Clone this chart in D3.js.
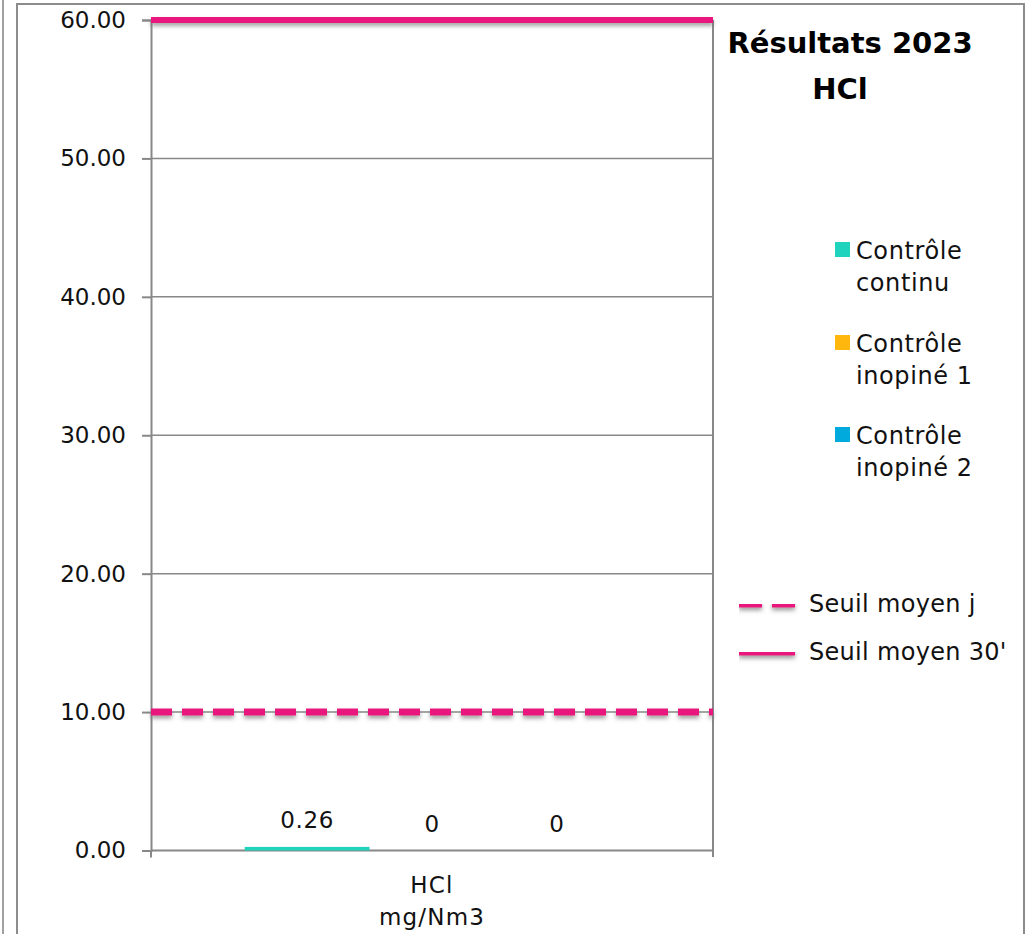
<!DOCTYPE html>
<html>
<head>
<meta charset="utf-8">
<script src="https://cdn.jsdelivr.net/npm/d3@7"></script>
<style>
  body { margin: 0; background: #fff; }
  svg { display: block; font-family: "DejaVu Sans", sans-serif; }
</style>
</head>
<body>
<svg id="chart" width="1032" height="934"></svg>
<script>
// data
const categories = ["HCl"]
const unitLabel = "mg/Nm3"
const series = ["Contrôle continu", "Contrôle inopiné 1", "Contrôle inopiné 2"]
const seriesLines = [["Contrôle", "continu"], ["Contrôle", "inopiné 1"], ["Contrôle", "inopiné 2"]]
const values = [0.26, 0, 0]
const valueLabels = ["0.26", "0", "0"]
const colors = ["#1fd3bc", "#ffb70d", "#00aadc"]
const thresholds = [
  { name: "Seuil moyen j", value: 10, dashed: true },
  { name: "Seuil moyen 30'", value: 60, dashed: false }
]
const yTicks = [0, 10, 20, 30, 40, 50, 60]

const pink = "#e8177d"
const axisGray = "#888888"

let svg = d3.select("#chart")

// shadow under the threshold lines (user space, lines have a flat bbox)
let defs = svg.append("defs")
defs.append("filter")
    .attr("id", "shadow")
    .attr("filterUnits", "userSpaceOnUse")
    .attr("x", 0).attr("y", 0)
    .attr("width", 1032).attr("height", 934)
    .append("feDropShadow")
    .attr("dx", 0).attr("dy", 3)
    .attr("stdDeviation", 2.2)
    .attr("flood-color", "#666")
    .attr("flood-opacity", 0.6)

// outer frames
svg.append("line")
    .attr("x1", 3).attr("x2", 3).attr("y1", 0).attr("y2", 934)
    .attr("stroke", "#a0a0a0").attr("stroke-width", 2)
svg.append("path")
    .attr("d", "M17,934 V4 H1024 V934")
    .attr("fill", "none")
    .attr("stroke", "#8c8c8c").attr("stroke-width", 2)

let x = d3.scaleBand()
    .domain(categories)
    .range([151, 713])
    .paddingInner(0).paddingOuter(0)

let xSub = d3.scaleBand()
    .domain(series)
    .range([0, x.bandwidth()])
    .paddingInner(0).paddingOuter(0.75)

let y = d3.scaleLinear()
    .domain([0, 60])
    .range([850.5, 20])

// grid lines
svg.append("g")
    .selectAll("line")
    .data(yTicks.filter(function (d) { return d > 0 }))
    .enter()
    .append("line")
    .attr("x1", 151).attr("x2", 713)
    .attr("y1", function (d) { return y(d) })
    .attr("y2", function (d) { return y(d) })
    .attr("stroke", axisGray).attr("stroke-width", 1.5)

// y axis
let yAxis = svg.append("g")
    .attr("transform", "translate(151,0)")
    .call(d3.axisLeft(y).tickValues(yTicks).tickSize(9).tickPadding(16)
        .tickFormat(function (d) { return d3.format(".2f")(d) }))
yAxis.select(".domain").attr("stroke", axisGray).attr("stroke-width", 2)
yAxis.selectAll(".tick line").attr("stroke", axisGray).attr("stroke-width", 2)
yAxis.selectAll(".tick text")
    .attr("font-family", "DejaVu Sans").attr("font-size", 23)
    .attr("fill", "#111")

// right edge of category
svg.append("line")
    .attr("x1", 713).attr("x2", 713).attr("y1", 20).attr("y2", 857)
    .attr("stroke", axisGray).attr("stroke-width", 2)

// x axis
let xAxis = svg.append("g")
    .attr("transform", "translate(0," + y(0) + ")")
xAxis.append("line")
    .attr("x1", 151).attr("x2", 713)
    .attr("stroke", axisGray).attr("stroke-width", 2)
xAxis.append("line")
    .attr("x1", 151).attr("x2", 151).attr("y1", 0).attr("y2", 7)
    .attr("stroke", axisGray).attr("stroke-width", 2)

let catLabel = svg.append("text")
    .attr("text-anchor", "middle")
    .attr("font-size", 23).attr("letter-spacing", 1.2).attr("fill", "#111")
catLabel.append("tspan")
    .attr("x", x(categories[0]) + x.bandwidth() / 2).attr("y", 893)
    .text(categories[0])
catLabel.append("tspan")
    .attr("x", x(categories[0]) + x.bandwidth() / 2).attr("y", 925)
    .text(unitLabel)

// bars
let barData = series.map(function (s, i) {
    return { cat: categories[0], name: s, value: values[i], label: valueLabels[i], color: colors[i] }
})

svg.append("g")
    .selectAll("rect")
    .data(barData)
    .enter()
    .append("rect")
    .attr("x", function (d) { return x(d.cat) + xSub(d.name) })
    .attr("width", xSub.bandwidth())
    .attr("y", function (d) { return y(d.value) })
    .attr("height", function (d) { return y(0) - y(d.value) })
    .attr("fill", function (d) { return d.color })

svg.append("g")
    .selectAll("text")
    .data(barData)
    .enter()
    .append("text")
    .attr("x", function (d) { return x(d.cat) + xSub(d.name) + xSub.bandwidth() / 2 })
    .attr("y", function (d) { return y(d.value) - 19 })
    .attr("text-anchor", "middle")
    .attr("font-size", 23).attr("letter-spacing", 0.6).attr("fill", "#111")
    .text(function (d) { return d.label })

// threshold lines
svg.append("g")
    .selectAll("line")
    .data(thresholds)
    .enter()
    .append("line")
    .attr("x1", 151).attr("x2", 713)
    .attr("y1", function (d) { return y(d.value) })
    .attr("y2", function (d) { return y(d.value) })
    .attr("stroke", pink)
    .attr("stroke-width", function (d) { return d.dashed ? 7 : 6 })
    .attr("stroke-dasharray", function (d) { return d.dashed ? "21 10" : null })
    .attr("filter", "url(#shadow)")

// title
let title = svg.append("text")
    .attr("font-weight", "bold").attr("font-size", 29).attr("fill", "#000")
    .attr("text-anchor", "middle")
title.append("tspan").attr("x", 850).attr("y", 53).text("Résultats 2023")
title.append("tspan").attr("x", 840).attr("y", 99).text("HCl")

// legend: series
let legendTop = [242, 335, 427]
let legend = svg.append("g")
    .selectAll("g")
    .data(barData)
    .enter()
    .append("g")
    .attr("transform", function (d, i) { return "translate(835," + legendTop[i] + ")" })

legend.append("rect")
    .attr("width", 15).attr("height", 15)
    .attr("fill", function (d) { return d.color })

legend.append("text")
    .attr("font-size", 24).attr("letter-spacing", 0.6).attr("fill", "#111")
    .selectAll("tspan")
    .data(function (d, i) { return seriesLines[i] })
    .enter()
    .append("tspan")
    .attr("x", 21)
    .attr("y", function (d, i) { return 17 + i * 32 })
    .text(function (d) { return d })

// legend: thresholds
let lineLegendY = [604, 652]
let lineLegend = svg.append("g")
    .selectAll("g")
    .data(thresholds)
    .enter()
    .append("g")
    .attr("transform", function (d, i) { return "translate(739," + lineLegendY[i] + ")" })

lineLegend.append("line")
    .attr("x1", 0).attr("x2", 56)
    .attr("stroke", pink).attr("stroke-width", 7)
    .attr("stroke-dasharray", function (d) { return d.dashed ? "23 10" : null })
    .attr("filter", "url(#shadow)")

lineLegend.append("text")
    .attr("x", 70).attr("y", 8)
    .attr("font-size", 24).attr("letter-spacing", 0.3).attr("fill", "#111")
    .text(function (d) { return d.name })
</script>
</body>
</html>
